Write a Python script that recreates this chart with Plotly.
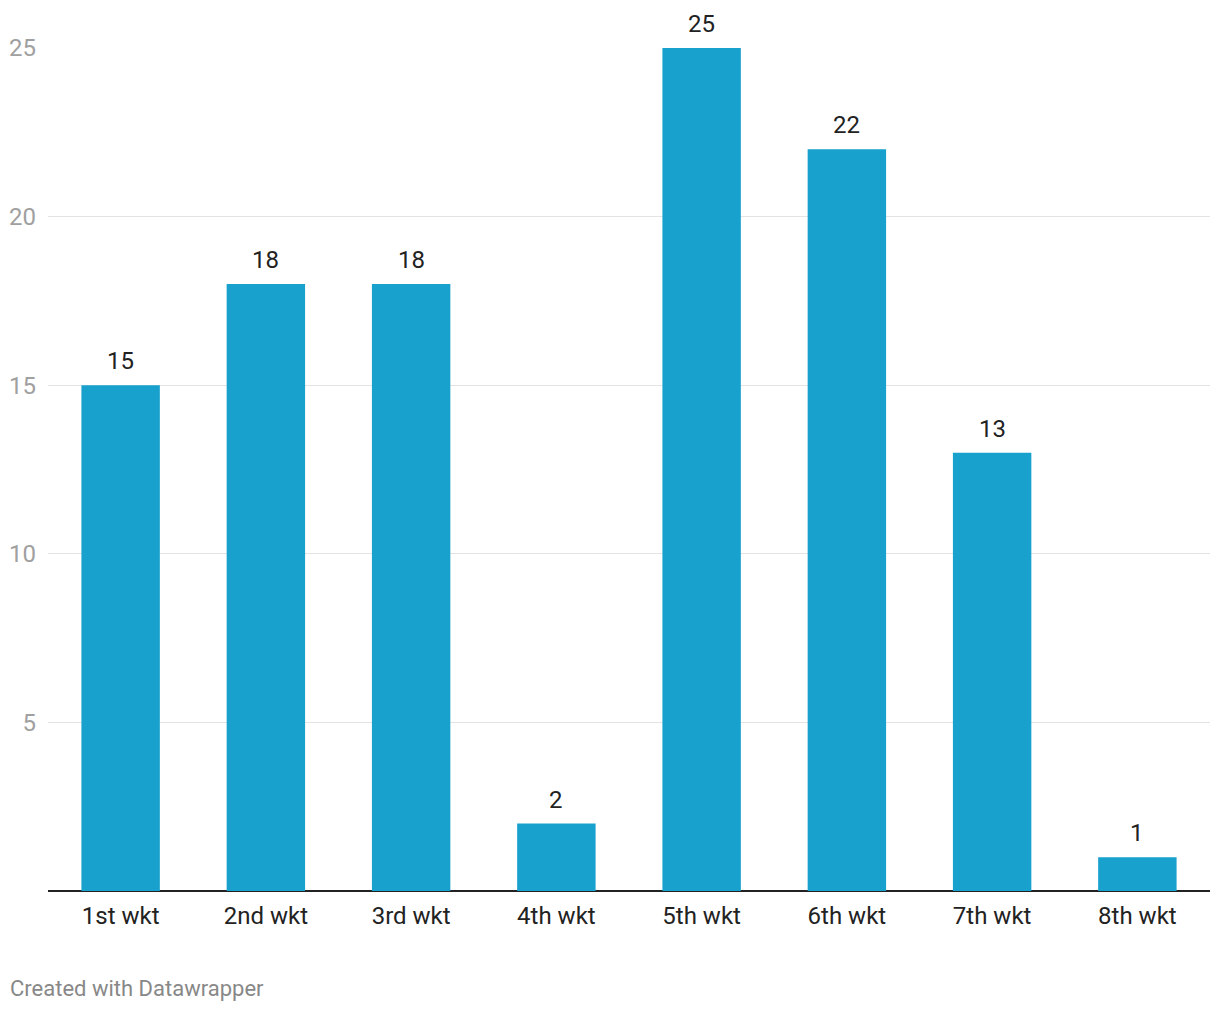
import plotly.graph_objects as go

# partnership wickets and counts
wickets = ["1st wkt", "2nd wkt", "3rd wkt", "4th wkt", "5th wkt", "6th wkt", "7th wkt", "8th wkt"]
counts = [15, 18, 18, 2, 25, 22, 13, 1]
y_ticks = [5, 10, 15, 20, 25]

fig = go.Figure()

fig.add_trace(go.Bar(
    x=wickets,
    y=counts,
    marker=dict(color="#18a1cd", line=dict(width=0)),
    cliponaxis=False,
    hoverinfo="skip",
))

# value labels sitting above each bar
for w, v in zip(wickets, counts):
    fig.add_annotation(
        x=w, y=v, text=str(v), showarrow=False,
        yanchor="middle", yshift=24,
        font=dict(family="Roboto", size=24, color="#222222"),
    )

fig.add_annotation(
    text="Created with Datawrapper",
    xref="paper", yref="paper", x=-40 / 1162, y=-97 / 843,
    xanchor="left", yanchor="middle", showarrow=False,
    font=dict(family="Roboto", size=22, color="#888888"),
)

# page body adds an 8px offset, so the figure is shrunk by that much
fig.update_layout(
    width=1212,
    height=1004,
    margin=dict(l=40, r=10, t=40, b=121),
    paper_bgcolor="white",
    plot_bgcolor="white",
    bargap=0.46,
    showlegend=False,
    font=dict(family="Roboto"),
)

fig.update_xaxes(
    showgrid=False,
    showline=False,
    ticks="",
    automargin=False,
    tickfont=dict(family="Roboto", size=24, color="#222222"),
    ticklabelstandoff=8,
)

fig.update_yaxes(
    range=[0, 25],
    tickvals=y_ticks,
    showgrid=True,
    gridcolor="#e3e3e3",
    gridwidth=1,
    zeroline=True,
    zerolinecolor="#222222",
    zerolinewidth=2,
    ticks="",
    automargin=False,
    tickfont=dict(family="Roboto", size=24, color="#a0a0a0"),
    ticklabelstandoff=11,
)

fig.write_html("out.html")
